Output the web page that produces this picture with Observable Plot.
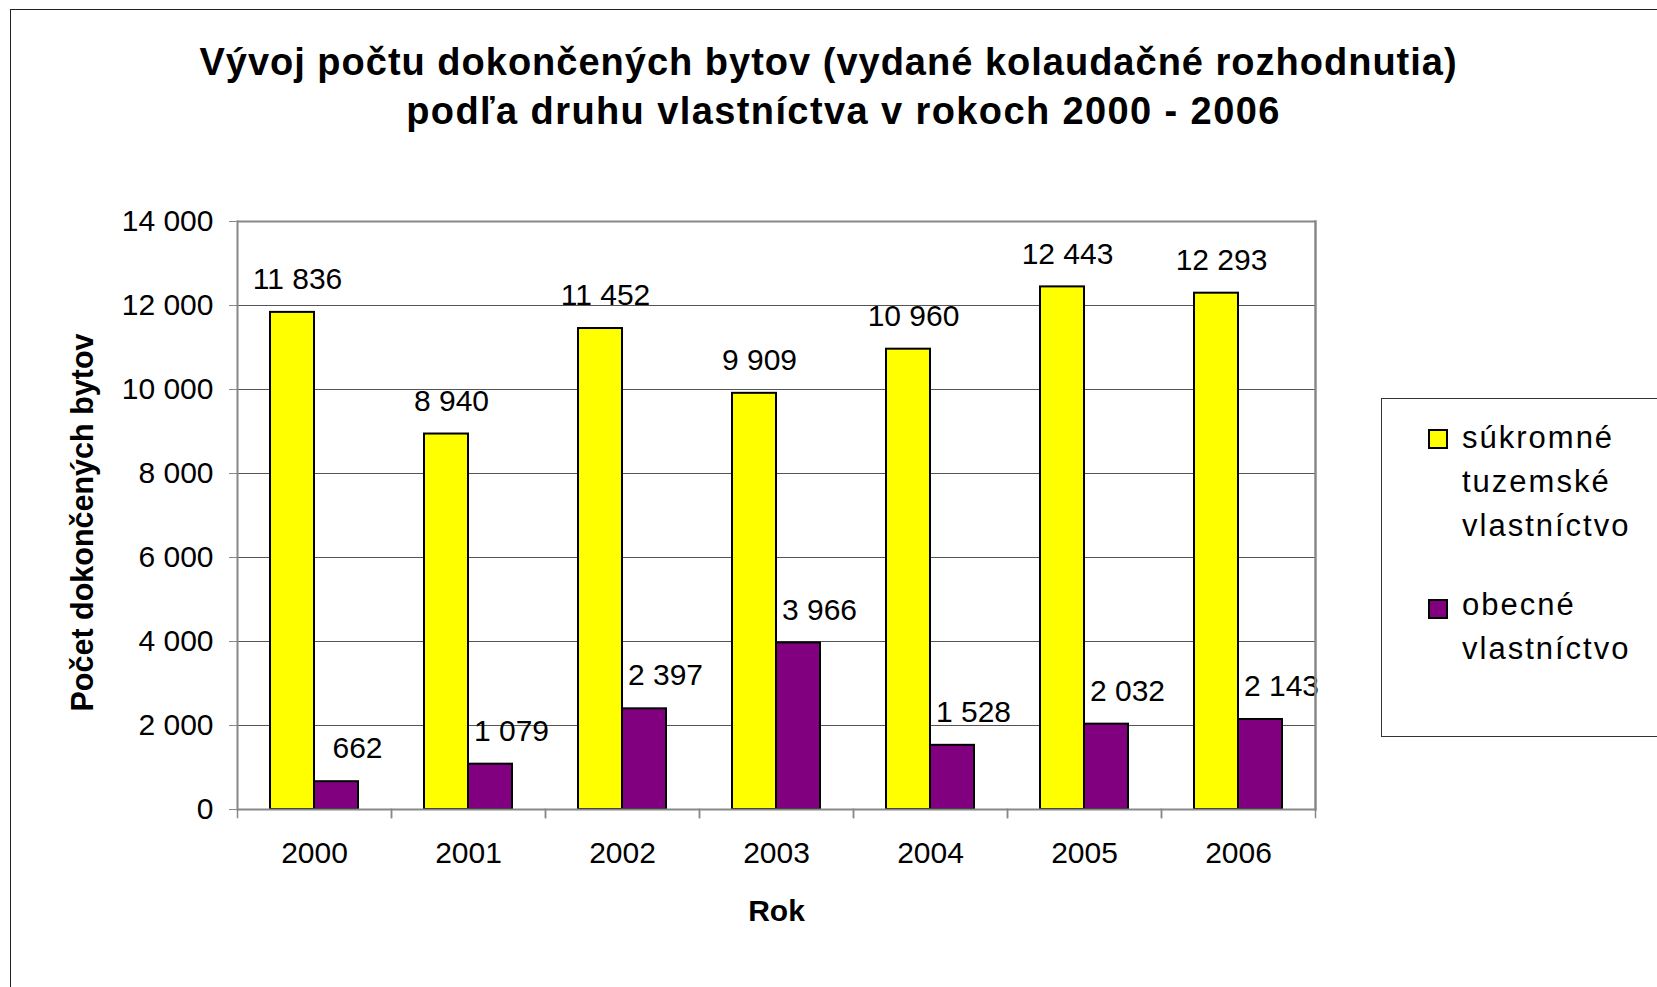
<!DOCTYPE html>
<html>
<head>
<meta charset="utf-8">
<script src="https://cdn.jsdelivr.net/npm/d3@7"></script>
<script src="https://cdn.jsdelivr.net/npm/@observablehq/plot@0.6"></script>
<style>
  html, body { margin: 0; padding: 0; background: #fff; overflow: hidden; width: 1657px; height: 987px; }
  body { position: relative; font-family: "Liberation Sans", Arial, sans-serif; color: #000; }
  #border { position: absolute; left: 10px; top: 9px; width: 1700px; height: 1100px; border: 1px solid #222; box-sizing: border-box; }
  #title { position: absolute; left: 0; top: 38px; width: 1657px; text-align: center; font-weight: bold; font-size: 38px; line-height: 49px; letter-spacing: 1px; white-space: nowrap; }
  #title .l2 { padding-left: 30px; letter-spacing: 1.4px; }
  #chart { position: absolute; left: 0; top: 140px; }
  #legend { position: absolute; left: 1381px; top: 398px; width: 400px; height: 339px; border: 1px solid #333; box-sizing: border-box; background: #fff; }
  .sw { position: absolute; width: 20px; height: 20px; border: 2px solid #000; box-sizing: border-box; }
  .lt { position: absolute; width: 190px; font-size: 31px; line-height: 44px; letter-spacing: 2px; }
</style>
</head>
<body>
<div id="border"></div>
<div id="title"><div>Vývoj počtu dokončených bytov (vydané kolaudačné rozhodnutia)</div><div class="l2">podľa druhu vlastníctva v rokoch 2000 - 2006</div></div>
<div id="chart"></div>
<div id="legend"></div>
<script>
// ---- data ----
const years = ["2000", "2001", "2002", "2003", "2004", "2005", "2006"];
const seriesNames = ["súkromné tuzemské vlastníctvo", "obecné vlastníctvo"];
const privateOwnership = [11836, 8940, 11452, 9909, 10960, 12443, 12293];
const municipalOwnership = [662, 1079, 2397, 3966, 1528, 2032, 2143];
const yTicks = [0, 2000, 4000, 6000, 8000, 10000, 12000, 14000];
const seriesColors = ["#FFFF00", "#800080"];
const yLabel = "Počet dokončených bytov";
const xLabel = "Rok";

// ---- table ----
const rows = years.flatMap((year, i) => [
  {year, series: seriesNames[0], value: privateOwnership[i]},
  {year, series: seriesNames[1], value: municipalOwnership[i]}
]);
const fmt = d => d3.format(",")(d).replace(/,/g, " ");

const W = 1657, H = 847;
const mTop = 81, mBottom = 178, mLeft = 234, mRight = 340;
const plotH = H - mTop - mBottom;
const font = "'Liberation Sans', Arial, sans-serif";

const chart = Plot.plot({
  width: W, height: H,
  marginTop: mTop, marginBottom: mBottom, marginLeft: mLeft, marginRight: mRight,
  style: {fontFamily: font, fontSize: "30px", color: "#000", background: "transparent", overflow: "visible"},
  fx: {domain: years, padding: 0},
  x: {domain: seriesNames, paddingInner: 0, paddingOuter: 0.75, axis: null},
  y: {domain: [0, 14000]},
  color: {domain: seriesNames, range: seriesColors},
  marks: [
    Plot.ruleY(yTicks.slice(1, -1), {stroke: "#555", strokeWidth: 1}),
    Plot.barY(rows, {fx: "year", x: "series", y: "value", fill: "series", stroke: "#000", strokeWidth: 2}),
    Plot.text(rows.filter(d => d.series === seriesNames[0]), {fx: "year", x: "series", y: "value", text: d => fmt(d.value), dy: -33, dx: 5, fontSize: 30}),
    Plot.text(rows.filter(d => d.series === seriesNames[1]), {fx: "year", x: "series", y: "value", text: d => fmt(d.value), dy: -33, dx: 21, fontSize: 30}),
    Plot.ruleY([14000], {stroke: "#888", strokeWidth: 2}),
    Plot.ruleY([0], {stroke: "#888", strokeWidth: 2}),
    Plot.frame({anchor: "left", facet: "super", stroke: "#888", strokeWidth: 2}),
    Plot.frame({anchor: "right", facet: "super", stroke: "#888", strokeWidth: 2.5}),
    Plot.frame({anchor: "left", insetTop: plotH, insetBottom: -8, stroke: "#888", strokeWidth: 1.5}),
    Plot.frame({anchor: "right", insetTop: plotH, insetBottom: -8, stroke: "#888", strokeWidth: 1.5}),
    Plot.axisY(yTicks, {anchor: "left", tickSize: 8, tickPadding: 16, tickFormat: fmt, fontSize: 30, stroke: "#888", label: null}),
    Plot.axisFx({anchor: "bottom", tickSize: 0, tickPadding: 32, fontSize: 30, label: null}),
    Plot.text([xLabel], {frameAnchor: "bottom", facet: "super", text: d => d, textAnchor: "middle", lineAnchor: "middle", dy: 102, fontWeight: "bold", fontSize: 30}),
    Plot.text([yLabel], {frameAnchor: "left", facet: "super", text: d => d, textAnchor: "middle", lineAnchor: "middle", rotate: -90, dx: -154, dy: 7, fontWeight: "bold", fontSize: 30.5})
  ]
});
document.getElementById("chart").appendChild(chart);

// ---- legend ----
const legend = document.getElementById("legend");
const entryTops = [17, 184];
const swatchTops = [30, 200];
seriesNames.forEach((name, i) => {
  const sw = document.createElement("div");
  sw.className = "sw";
  sw.style.left = (1428 - 1382) + "px";
  sw.style.top = swatchTops[i] + "px";
  sw.style.background = seriesColors[i];
  legend.appendChild(sw);
  const t = document.createElement("div");
  t.className = "lt";
  t.style.left = (1462 - 1382) + "px";
  t.style.top = entryTops[i] + "px";
  t.textContent = name;
  legend.appendChild(t);
});
</script>
</body>
</html>
